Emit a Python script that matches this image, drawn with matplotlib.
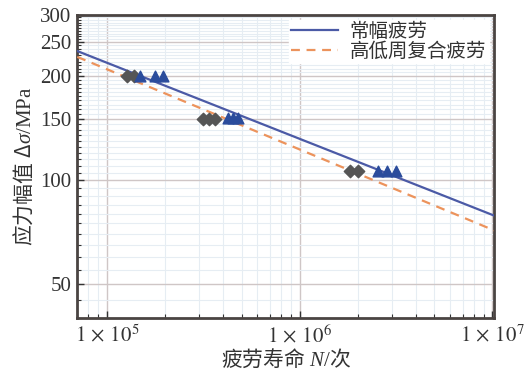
import math
import matplotlib
matplotlib.use("Agg")
import matplotlib.pyplot as plt
from matplotlib.ticker import FixedLocator, MultipleLocator, NullFormatter, FuncFormatter, LogLocator

plt.rcParams['font.family'] = ['Liberation Serif', 'Noto Sans CJK SC']
plt.rcParams['mathtext.fontset'] = 'stix'
# custom math fonts, used only for the axis labels (CJK + italic serif)
plt.rcParams['mathtext.rm'] = 'Noto Sans CJK SC'
plt.rcParams['mathtext.it'] = 'Liberation Serif:italic'
plt.rcParams['mathtext.sf'] = 'Liberation Serif'

# fitted S-N lines (two end points each)
line_n = [7.0e4, 1.02e7]
const_s = [236, 79]
combo_s = [227, 71.6]

# test points
dia_n = [1.27e5, 1.38e5, 3.14e5, 3.38e5, 3.63e5, 1.82e6, 2.0e6]
dia_s = [200, 200, 150, 150, 150, 106, 106]
tri_n = [1.48e5, 1.77e5, 1.95e5, 4.24e5, 4.50e5, 4.77e5, 2.54e6, 2.82e6, 3.14e6]
tri_s = [200, 200, 200, 151, 151, 151, 106, 106, 106]

fig = plt.figure(figsize=(5.29, 3.74), dpi=100)
ax = fig.add_axes([0.146, 0.15, 0.788, 0.81])
ax.set_xscale('log')
ax.set_yscale('log')

ax.plot(line_n, const_s, color='#4b5aa6', lw=1.6, label='常幅疲劳', zorder=3)
ax.plot(line_n, combo_s, color='#ec935c', lw=1.6, ls=(0, (4, 3)), label='高低周复合疲劳', zorder=3)
ax.scatter(dia_n, dia_s, marker='D', s=40, color='#555555', zorder=4)
ax.scatter(tri_n, tri_s, marker='^', s=60, color='#2b4c9c', zorder=4)

ax.set_xlim(7.0e4, 1.02e7)
ax.set_ylim(40, 300)

ax.xaxis.set_major_locator(FixedLocator([1e5, 1e6, 1e7]))
ax.xaxis.set_major_formatter(FuncFormatter(lambda v, p: r'$1\,\times\,10^{%d}$' % round(math.log10(v))))
ax.xaxis.set_minor_locator(LogLocator(base=10, subs=range(2, 10)))
ax.xaxis.set_minor_formatter(NullFormatter())
ax.yaxis.set_major_locator(FixedLocator([50, 100, 150, 200, 250, 300]))
ax.yaxis.set_major_formatter(FuncFormatter(lambda v, p: '%d' % v))
ax.yaxis.set_minor_locator(MultipleLocator(5))
ax.yaxis.set_minor_formatter(NullFormatter())

ax.tick_params(which='both', direction='in', colors='#333333', labelsize=15)
ax.tick_params(which='major', length=5, width=1)
ax.tick_params(which='minor', length=3, width=0.8)
ax.tick_params(axis='x', pad=5)
ax.tick_params(axis='y', pad=4)

ax.grid(True, which='major', color='#cfc6c6', lw=1.0, zorder=0)
ax.grid(True, which='minor', color='#e6edf3', lw=0.8, zorder=0)
for s in ax.spines.values():
    s.set_color('#4a4442')
    s.set_linewidth(2)

ax.set_xlabel(r'$\mathrm{疲劳寿命}\ \mathit{N}\mathsf{/}\mathrm{次}$', fontsize=15,
              labelpad=0, math_fontfamily='custom', color='#333333')
ax.set_ylabel(r'$\mathrm{应力幅值}\ \mathit{\Delta\sigma}\mathsf{/MPa}$', fontsize=15,
              labelpad=3, math_fontfamily='custom', color='#333333')

leg = ax.legend(loc='upper right', fontsize=14, frameon=True, fancybox=False,
                handlelength=2.4, borderaxespad=0.25, labelspacing=0.05,
                borderpad=0.15, handletextpad=0.6)
leg.get_frame().set_edgecolor('white')
leg.get_frame().set_alpha(1)
for t in leg.get_texts():
    t.set_color('#333333')

fig.savefig('out.png', dpi=100)
